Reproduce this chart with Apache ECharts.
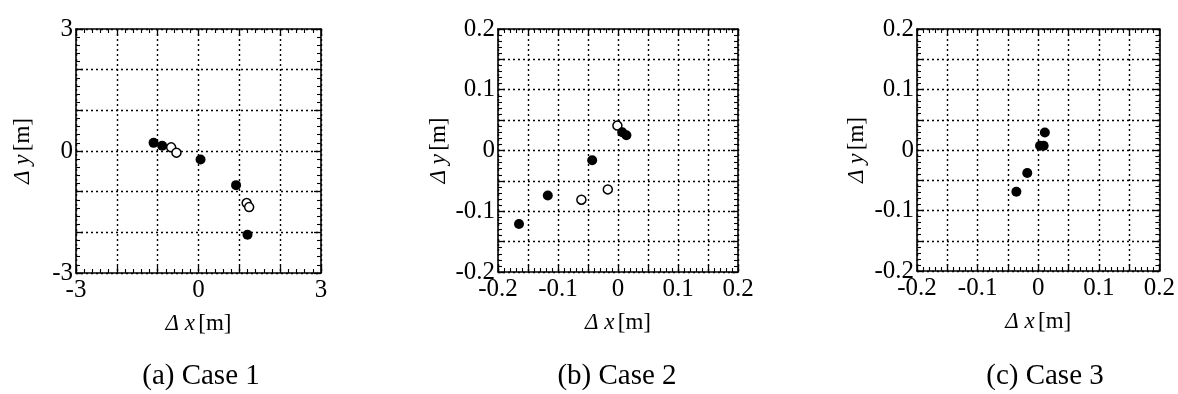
<!DOCTYPE html>
<html>
<head>
<meta charset="utf-8">
<script src="https://cdn.jsdelivr.net/npm/echarts@6/dist/echarts.min.js"></script>
<style>
html,body{margin:0;padding:0;background:#fff;}
#c{width:1178px;height:394px;}
</style>
</head>
<body>
<div id="c"></div>
<script>
// ---- Data ----
const captions = ['(a) Case 1', '(b) Case 2', '(c) Case 3'];
// Case 1 [Δx, Δy]
const case1Filled = [[-1.10, 0.20], [-0.89, 0.13], [0.05, -0.21], [0.92, -0.84], [1.20, -2.06]];
const case1Open = [[-0.67, 0.09], [-0.54, -0.04], [1.18, -1.28], [1.24, -1.38]];
// Case 2
const case2Filled = [[0.007, 0.030], [0.014, 0.025], [-0.043, -0.016], [-0.117, -0.074], [-0.165, -0.121]];
const case2Open = [[-0.001, 0.041], [-0.017, -0.064], [-0.061, -0.081]];
// Case 3
const case3Filled = [[0.011, 0.029], [0.003, 0.007], [0.009, 0.007], [-0.018, -0.038], [-0.036, -0.069]];
const case3Open = [];
// Axis ranges
const ranges = [
  {min: -3, max: 3, interval: 1, labelStep: 3},
  {min: -0.2, max: 0.2, interval: 0.05, labelStep: 0.1},
  {min: -0.2, max: 0.2, interval: 0.05, labelStep: 0.1}
];

const FONT = "'Liberation Serif','Times New Roman',serif";
const grids = [
  {left: 76, top: 29, width: 245, height: 244},
  {left: 498, top: 29, width: 240, height: 243},
  {left: 917, top: 29, width: 243, height: 242}
];
const yNameGap = [42, 48, 49];
const captionX = [196, 612, 1040];

function fmt(step) {
  return function (v) {
    const k = v / step;
    if (Math.abs(k - Math.round(k)) < 1e-6) {
      const r = Math.round(k) * step;
      if (Math.abs(r) < 1e-9) return '0';
      return step >= 1 ? String(Math.round(r)) : r.toFixed(1);
    }
    return '';
  };
}

const xAxes = [], yAxes = [], series = [], titles = [];
const rich = {it: {fontFamily: FONT, fontStyle: 'italic', fontSize: 23, color: '#000'},
              n: {fontFamily: FONT, fontSize: 23, color: '#000'}};

ranges.forEach((r, i) => {
  const common = {
    gridIndex: i, type: 'value', min: r.min, max: r.max, interval: r.interval,
    axisLine: {show: true, onZero: false, lineStyle: {color: '#000', width: 1.6}},
    axisTick: {show: true, inside: true, length: 7, lineStyle: {color: '#000', width: 1.3}},
    minorTick: {show: true, splitNumber: 5, length: 4, lineStyle: {color: '#000', width: 1.1}},
  };
  xAxes.push(Object.assign({}, common, {
    position: 'bottom',
    splitLine: {show: true, lineStyle: {color: '#000', width: 1.4, type: [2, 3]}},
    axisLabel: {show: true, formatter: fmt(r.labelStep), fontFamily: FONT, fontSize: 25, color: '#000',
                margin: 5, showMinLabel: true, showMaxLabel: true, hideOverlap: false},
    name: '{it|Δ x} {n|[m]}', nameLocation: 'middle', nameGap: 39, nameMoveOverlap: false,
    nameTextStyle: {rich: rich, verticalAlign: 'top'}
  }));
  xAxes.push(Object.assign({}, common, {
    position: 'top', splitLine: {show: false}, axisLabel: {show: false}
  }));
  yAxes.push(Object.assign({}, common, {
    position: 'left',
    splitLine: {show: true, lineStyle: {color: '#000', width: 1.4, type: [2, 3]}},
    axisLabel: {show: true, formatter: fmt(r.labelStep), fontFamily: FONT, fontSize: 25, color: '#000',
                margin: 3, showMinLabel: true, showMaxLabel: true, hideOverlap: false},
    name: '{it|Δ y} {n|[m]}', nameLocation: 'middle', nameGap: yNameGap[i], nameRotate: 90,
    nameMoveOverlap: false,
    nameTextStyle: {rich: rich}
  }));
  yAxes.push(Object.assign({}, common, {
    position: 'right', splitLine: {show: false}, axisLabel: {show: false}
  }));
  titles.push({text: captions[i], left: captionX[i], top: 357, textAlign: 'center',
               textStyle: {fontFamily: FONT, fontSize: 29, fontWeight: 'normal', color: '#000'}});
});

const filledSets = [case1Filled, case2Filled, case3Filled];
const openSets = [case1Open, case2Open, case3Open];
for (let i = 0; i < 3; i++) {
  series.push({
    type: 'scatter', xAxisIndex: i * 2, yAxisIndex: i * 2, data: openSets[i],
    symbol: 'circle', symbolSize: 9,
    itemStyle: {color: '#fff', borderColor: '#000', borderWidth: 1.5, opacity: 1}, z: 3
  });
  series.push({
    type: 'scatter', xAxisIndex: i * 2, yAxisIndex: i * 2, data: filledSets[i],
    symbol: 'circle', symbolSize: 10,
    itemStyle: {color: '#000', opacity: 1}, z: 4
  });
}

const chart = echarts.init(document.getElementById('c'), null, {renderer: 'canvas'});
chart.setOption({
  animation: false,
  backgroundColor: '#fff',
  title: titles,
  grid: grids,
  xAxis: xAxes,
  yAxis: yAxes,
  series: series
});
</script>
</body>
</html>
